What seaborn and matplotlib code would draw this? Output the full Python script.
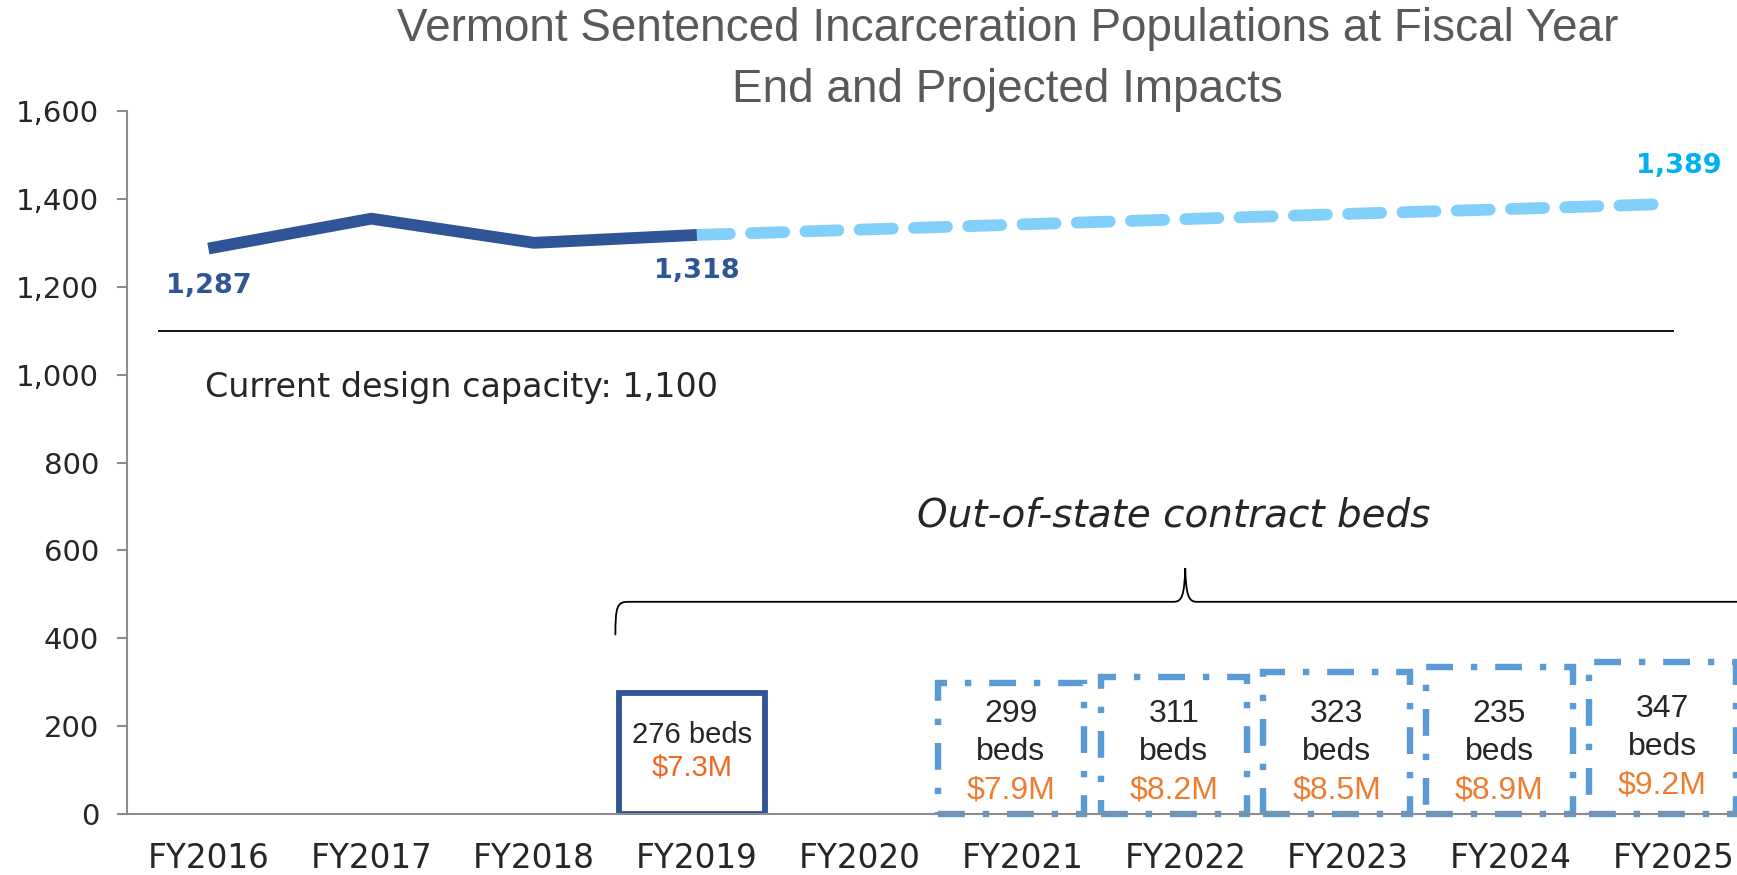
import numpy as np
import matplotlib.pyplot as plt
from matplotlib.path import Path
from matplotlib.patches import PathPatch
from matplotlib.ticker import FuncFormatter
import pandas as pd
import seaborn as sns

# data
years = ["FY2016", "FY2017", "FY2018", "FY2019", "FY2020",
         "FY2021", "FY2022", "FY2023", "FY2024", "FY2025"]
actual_years = ["FY2016", "FY2017", "FY2018", "FY2019"]
actual_pop = [1287, 1355, 1300, 1318]
proj_years = ["FY2019", "FY2020", "FY2021", "FY2022", "FY2023", "FY2024", "FY2025"]
proj_pop = [1318, 1330, 1342, 1354, 1366, 1377, 1389]
capacity = 1100

bed_years = ["FY2019", "FY2021", "FY2022", "FY2023", "FY2024", "FY2025"]
bed_counts = [276, 299, 311, 323, 335, 347]          # box heights
bed_labels = ["276", "299", "311", "323", "235", "347"]  # as printed on the chart
bed_costs = ["$7.3M", "$7.9M", "$8.2M", "$8.5M", "$8.9M", "$9.2M"]

pos = {y: i for i, y in enumerate(years)}
actual = pd.DataFrame({"x": [pos[y] for y in actual_years], "pop": actual_pop})
proj = pd.DataFrame({"x": [pos[y] for y in proj_years], "pop": proj_pop})

sns.set_style("white")
plt.rcParams["font.family"] = ["DejaVu Sans"]

dark_blue = "#2F5597"
light_blue = "#82D0FA"
mid_blue = "#5B9BD5"
grey = "#8C8C8C"
box_font = ["Liberation Sans", "DejaVu Sans"]

fig = plt.figure(figsize=(17.37, 8.75), dpi=100)
ax = fig.add_axes([0.0731, 0.0697, 0.9373, 0.8034])

# projection first so the actual line sits on top of it
sns.lineplot(data=proj, x="x", y="pop", ax=ax, color=light_blue, linewidth=8.5,
             linestyle=(0, (2.8, 1.8)), dash_capstyle="round", sort=False)
sns.lineplot(data=actual, x="x", y="pop", ax=ax, color=dark_blue, linewidth=8.5,
             solid_capstyle="butt", solid_joinstyle="miter", sort=False)

ax.hlines(capacity, -0.31, pos["FY2025"], color="black", linewidth=1.3)
ax.text(-0.02, 970, f"Current design capacity: {capacity:,}", fontsize=24,
        va="center", ha="left")

# data labels
ax.text(pos["FY2016"], 1202, f"{actual_pop[0]:,}", color=dark_blue, fontsize=19.5,
        fontweight="bold", ha="center", va="center")
ax.text(pos["FY2019"], 1235, f"{actual_pop[-1]:,}", color=dark_blue, fontsize=19.5,
        fontweight="bold", ha="center", va="center")
ax.text(pos["FY2025"] + 0.03, 1474, f"{proj_pop[-1]:,}", color="#00B0F0", fontsize=19.5,
        fontweight="bold", ha="center", va="center", clip_on=False)

# out-of-state bed boxes
for i, (yr, h, lab, cost) in enumerate(zip(bed_years, bed_counts, bed_labels, bed_costs)):
    if i == 0:
        x0 = pos[yr] - 0.48
        cx = x0 + 0.45
        ax.bar(x0, h, width=0.9, align="edge", fill=False, edgecolor=dark_blue,
               linewidth=4.2)
        ax.text(cx, 179, f"{lab} beds", fontsize=21, ha="center", va="center",
                family=box_font)
        ax.text(cx, 106, cost, fontsize=21, color="#F26522", ha="center", va="center",
                family=box_font)
    else:
        x0 = pos[yr] - 0.52
        cx = x0 + 0.45
        lift = 12 if i == len(bed_years) - 1 else 0
        ax.bar(x0, h, width=0.9, align="edge", fill=False, edgecolor=mid_blue,
               linewidth=4.6, linestyle=(0, (4.2, 2.8, 1.0, 2.8)), clip_on=False)
        ax.text(cx, 228 + lift, lab, fontsize=23, ha="center", va="center",
                clip_on=False, family=box_font)
        ax.text(cx, 141 + lift, "beds", fontsize=23, ha="center", va="center",
                clip_on=False, family=box_font)
        ax.text(cx, 54 + lift, cost, fontsize=23, color="#ED7D31", ha="center",
                va="center", clip_on=False, family=box_font)

# curly brace over the contract-bed years
bl, br = pos["FY2019"] - 0.5, pos["FY2025"] + 0.5
bm = (bl + br) / 2
y_tip, y_bar, y_peak = 407, 483, 560
verts = [(bl, y_tip), (bl, y_bar - 10), (bl + 0.01, y_bar), (bl + 0.08, y_bar),
         (bm - 0.07, y_bar),
         (bm - 0.02, y_bar), (bm - 0.005, y_bar + 15), (bm, y_peak),
         (bm + 0.005, y_bar + 15), (bm + 0.02, y_bar), (bm + 0.07, y_bar),
         (br - 0.08, y_bar),
         (br - 0.01, y_bar), (br, y_bar - 10), (br, y_tip)]
codes = [Path.MOVETO, Path.CURVE4, Path.CURVE4, Path.CURVE4,
         Path.LINETO,
         Path.CURVE4, Path.CURVE4, Path.CURVE4,
         Path.CURVE4, Path.CURVE4, Path.CURVE4,
         Path.LINETO,
         Path.CURVE4, Path.CURVE4, Path.CURVE4]
ax.add_patch(PathPatch(Path(verts, codes), fill=False, edgecolor="black",
                       linewidth=1.3, clip_on=False))
ax.text(5.93, 680, "Out-of-state contract beds", fontsize=28, style="italic",
        ha="center", va="center")

# axes styling
ax.set_xlim(-0.5, len(years) - 0.5)
ax.set_ylim(0, 1600)
ax.set_yticks(np.arange(0, 1601, 200))
ax.yaxis.set_major_formatter(FuncFormatter(lambda v, p: f"{int(v):,}"))
ax.set_xticks(range(len(years)), years)
ax.set_xticks(np.arange(-0.5, len(years)), minor=True)
ax.tick_params(axis="x", which="major", length=0, pad=20, labelsize=23.5)
ax.tick_params(axis="x", which="minor", length=10, width=1.5, color=grey, direction="out")
ax.tick_params(axis="y", length=7, width=1.5, color=grey, pad=13, labelsize=21,
               direction="out", left=True)
ax.set_xlabel("")
ax.set_ylabel("")
for s in ["top", "right"]:
    ax.spines[s].set_visible(False)
for s in ["left", "bottom"]:
    ax.spines[s].set_color(grey)
    ax.spines[s].set_linewidth(1.5)

title_font = ["Liberation Sans Narrow", "Liberation Sans", "DejaVu Sans"]
fig.text(0.58, 1 - 29 / 875, "Vermont Sentenced Incarceration Populations at Fiscal Year",
         fontsize=33, color="#595959", ha="center", va="center", family=title_font)
fig.text(0.58, 1 - 90 / 875, "End and Projected Impacts",
         fontsize=33, color="#595959", ha="center", va="center", family=title_font)

fig.savefig("out.png", dpi=100)
